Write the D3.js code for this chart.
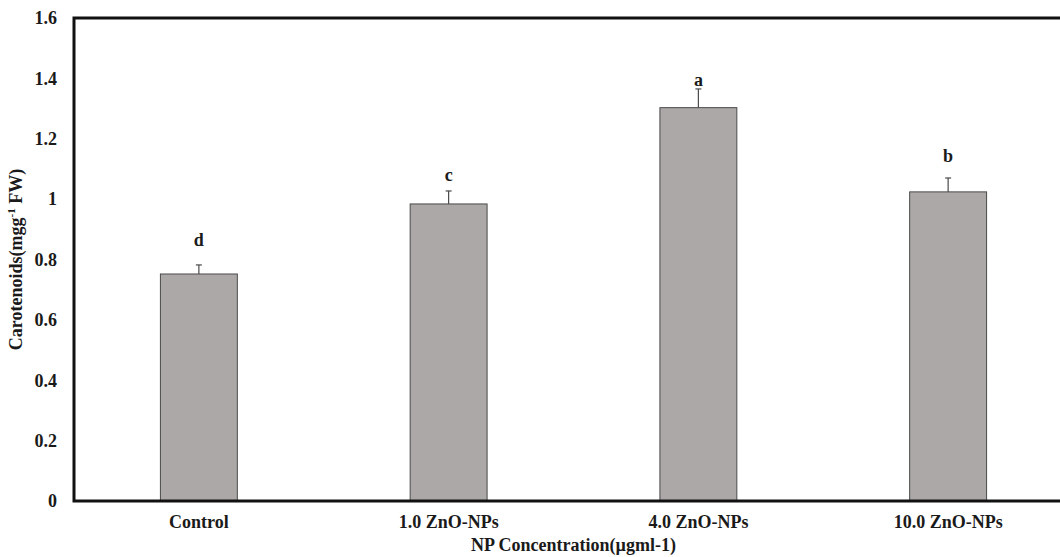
<!DOCTYPE html>
<html>
<head>
<meta charset="utf-8">
<script src="https://cdn.jsdelivr.net/npm/d3@7/dist/d3.min.js"></script>
<style>
  html, body { margin: 0; padding: 0; background: #fff; }
  svg text { font-family: "Liberation Serif", "Times New Roman", "DejaVu Serif", serif !important; font-weight: bold; fill: #1a1a1a; }
</style>
</head>
<body>
<div id="chart"></div>
<script>
(function () {
  "use strict";

  // dados
  const categories = ["Control", "1.0 ZnO-NPs", "4.0 ZnO-NPs", "10.0 ZnO-NPs"];
  const means = [0.752, 0.984, 1.303, 1.024];
  const errors = [0.030, 0.043, 0.062, 0.046];
  const letters = ["d", "c", "a", "b"];
  const letterPos = [0.845, 1.06, 1.375, 1.123]; // altura (em unidades do eixo) da base da letra
  const yTicks = [0, 0.2, 0.4, 0.6, 0.8, 1, 1.2, 1.4, 1.6];

  const COLORS = {
    bar: "#aba8a7",
    barStroke: "#4a4a4a",
    error: "#4a4a4a",
    axis: "#111",
  };
  const FONT = '"Liberation Serif", "Times New Roman", serif';

  const width = 1060, height = 557;
  // a área do gráfico passa um pouco da borda direita, como no original
  const margin = { top: 18, right: -13, bottom: 56, left: 74 };

  const svg = d3.select("#chart").append("svg")
    .attr("width", width)
    .attr("height", height)
    .attr("viewBox", `0 0 ${width} ${height}`);

  svg.append("rect").attr("width", width).attr("height", height).attr("fill", "#fff");

  const x = d3.scaleBand()
    .domain(categories)
    .range([margin.left, width - margin.right])
    .paddingInner(0.688)
    .paddingOuter(0.344);

  const y = d3.scaleLinear()
    .domain([0, 1.6])
    .range([height - margin.bottom, margin.top]);

  const data = categories.map((c, i) => ({
    cat: c, mean: means[i], err: errors[i], letter: letters[i], lpos: letterPos[i],
  }));

  // barras de erro (só a metade de cima aparece)
  const capW = 6;
  const eb = svg.append("g");
  data.forEach((d) => {
    const cx = x(d.cat) + x.bandwidth() / 2;
    eb.append("line")
      .attr("x1", cx).attr("x2", cx)
      .attr("y1", y(d.mean)).attr("y2", y(d.mean + d.err))
      .attr("stroke", COLORS.error).attr("stroke-width", 1.2);
    eb.append("line")
      .attr("x1", cx - capW / 2).attr("x2", cx + capW / 2)
      .attr("y1", y(d.mean + d.err)).attr("y2", y(d.mean + d.err))
      .attr("stroke", COLORS.error).attr("stroke-width", 1.2);
  });

  svg.append("g").selectAll("rect")
    .data(data)
    .join("rect")
    .attr("x", (d) => x(d.cat) + 0.5)
    .attr("width", x.bandwidth() - 1)
    .attr("y", (d) => y(d.mean))
    .attr("height", (d) => y(0) - y(d.mean))
    .attr("fill", COLORS.bar)
    .attr("stroke", COLORS.barStroke)
    .attr("stroke-width", 1);

  // letras de significância
  svg.append("g").selectAll("text")
    .data(data)
    .join("text")
    .attr("x", (d) => x(d.cat) + x.bandwidth() / 2)
    .attr("y", (d) => y(d.lpos))
    .attr("text-anchor", "middle")
    .style("font-family", FONT)
    .style("font-size", "18px")
    .text((d) => d.letter);

  // eixo y: só rótulos, sem marcas
  const yAxis = svg.append("g")
    .attr("transform", `translate(${margin.left},0)`)
    .call(d3.axisLeft(y).tickValues(yTicks).tickSize(0).tickPadding(17)
      .tickFormat((v) => (v === 0 || v === 1 ? String(v) : d3.format(".1f")(v))));
  yAxis.attr("font-family", null).attr("font-size", null);
  yAxis.select(".domain").remove();
  yAxis.selectAll("text")
    .style("font-family", FONT)
    .style("font-size", "18px")
    .style("font-weight", "bold")
    .attr("fill", "#1a1a1a");

  // eixo x
  const xAxis = svg.append("g")
    .attr("transform", `translate(0,${y(0)})`)
    .call(d3.axisBottom(x).tickSize(0).tickPadding(14));
  xAxis.attr("font-family", null).attr("font-size", null);
  xAxis.select(".domain").remove();
  xAxis.selectAll("text")
    .style("font-family", FONT)
    .style("font-size", "18px")
    .style("font-weight", "bold")
    .attr("fill", "#1a1a1a");

  // moldura: topo, esquerda, base
  const x0 = margin.left, x1 = width - margin.right;
  svg.append("path")
    .attr("d", `M${x1},${margin.top} H${x0} V${y(0)} H${x1}`)
    .attr("fill", "none")
    .attr("stroke", COLORS.axis)
    .attr("stroke-width", 3);

  // títulos
  svg.append("text")
    .attr("x", (x0 + x1) / 2)
    .attr("y", 551)
    .attr("text-anchor", "middle")
    .style("font-family", FONT)
    .style("font-size", "18px")
    .text("NP Concentration(µgml-1)");

  const yt = svg.append("text")
    .attr("transform", `translate(22,${(margin.top + y(0)) / 2}) rotate(-90)`)
    .attr("text-anchor", "middle")
    .style("font-family", FONT)
    .style("font-size", "18px");
  yt.append("tspan").text("Carotenoids(mgg");
  yt.append("tspan").style("font-size", "11px").attr("dy", -7).text("-1");
  yt.append("tspan").attr("dy", 7).text(" FW)");
})();
</script>
</body>
</html>
